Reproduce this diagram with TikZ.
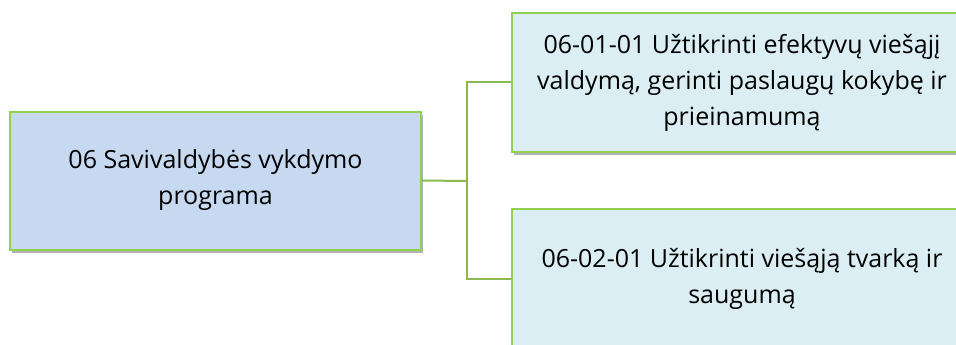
\documentclass[tikz,border=0pt]{standalone}
\usepackage{fontspec}
\setmainfont{Open Sans}
\usetikzlibrary{shadows}
\definecolor{leftfill}{RGB}{198,217,240}
\definecolor{rightfill}{RGB}{219,238,244}
\definecolor{boxedge}{RGB}{146,208,80}
\definecolor{linkcol}{RGB}{140,185,80}
\tikzset{
  box/.style={draw=boxedge, line width=2pt, inner sep=0pt, align=center,
    font=\fontsize{25}{36}\selectfont,
    drop shadow={shadow xshift=1.5pt, shadow yshift=-3pt, fill=black, opacity=0.3}},
  link/.style={draw=linkcol, line width=2pt}
}
\begin{document}
\begin{tikzpicture}[x=1pt,y=-1pt]
\useasboundingbox (0,0) rectangle (956,345);
\clip (0,0) rectangle (956,345);
\node[box, fill=leftfill, minimum width=411pt, minimum height=138pt] (left) at (215.5,180.5)
  {06 Savivaldybės vykdymo\\programa};
\node[box, fill=rightfill, minimum width=460pt, minimum height=139pt] (top) at (742,82.5)
  {06-01-01 Užtikrinti efektyvų viešąjį\\valdymą, gerinti paslaugų kokybę ir\\prieinamumą};
\node[box, fill=rightfill, minimum width=460pt, minimum height=140pt] (bot) at (742,279)
  {06-02-01 Užtikrinti viešąją tvarką ir\\saugumą};
\coordinate (j) at (467,181);
\draw[link] (left.east) -- (j);
\draw[link] (j) |- (top.west);
\draw[link] (j) |- (bot.west);
\end{tikzpicture}
\end{document}
